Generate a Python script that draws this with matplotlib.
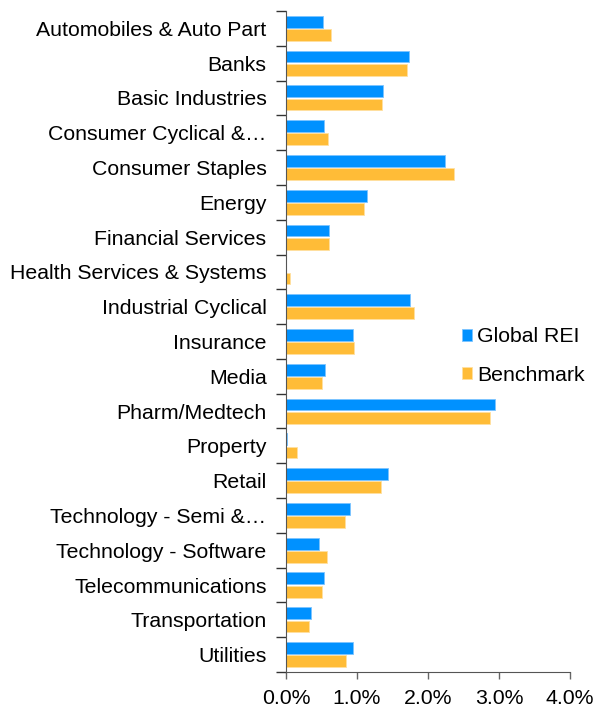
import numpy as np
import matplotlib.pyplot as plt
from matplotlib.ticker import FixedLocator

# sector weights (%)
sectors = ["Automobiles & Auto Part", "Banks", "Basic Industries",
           "Consumer Cyclical &\u2026", "Consumer Staples", "Energy",
           "Financial Services", "Health Services & Systems",
           "Industrial Cyclical", "Insurance", "Media", "Pharm/Medtech",
           "Property", "Retail", "Technology - Semi &\u2026",
           "Technology - Software", "Telecommunications", "Transportation",
           "Utilities"]
global_rei = [0.52, 1.73, 1.37, 0.54, 2.24, 1.14, 0.61, 0.0, 1.75, 0.94,
              0.55, 2.94, 0.02, 1.44, 0.90, 0.46, 0.53, 0.35, 0.95]
benchmark = [0.63, 1.70, 1.35, 0.59, 2.36, 1.10, 0.61, 0.05, 1.80, 0.96,
             0.50, 2.88, 0.15, 1.34, 0.83, 0.58, 0.50, 0.32, 0.85]
xticks = [0, 1, 2, 3, 4]

plt.rcParams['font.family'] = ['Liberation Sans', 'DejaVu Sans']
fs = 15.3

fig = plt.figure(figsize=(5.98, 7.07), dpi=100)
ax = fig.add_axes([0.4783, 0.0495, 0.4749, 0.935])

y = np.arange(len(sectors))
h = 0.34
ax.barh(y - 0.19, global_rei, height=h, color="#0091FF",
        edgecolor="#7CC4FF", linewidth=0.6, label="Global REI")
ax.barh(y + 0.19, benchmark, height=h, color="#FFBC37",
        edgecolor="#FFE0A0", linewidth=0.6, label="Benchmark")

ax.set_ylim(len(sectors) - 0.5, -0.5)
ax.set_xlim(0, 4)
ax.set_yticks(y)
ax.set_yticklabels(sectors, fontsize=fs)
ax.tick_params(axis='y', which='major', length=0, pad=14)
ax.yaxis.set_minor_locator(FixedLocator(np.arange(-0.5, len(sectors), 1)))
ax.tick_params(axis='y', which='minor', length=7, color="#333333", width=1)

ax.set_xticks(xticks)
ax.set_xticklabels([f"{v:.1f}%" for v in xticks], fontsize=fs)
ax.tick_params(axis='x', length=5, color="#666666", width=1, pad=7)

for s in ["top", "right"]:
    ax.spines[s].set_visible(False)
ax.spines["left"].set_color("#555555")
ax.spines["bottom"].set_color("#555555")

ax.legend(loc="center left", bbox_to_anchor=(0.754, 0.4965),
          bbox_transform=fig.transFigure, frameon=False, fontsize=fs,
          handlelength=0.5, handleheight=0.5, handletextpad=0.25,
          labelspacing=0.9, borderpad=0)

fig.savefig("out.png", dpi=100)
